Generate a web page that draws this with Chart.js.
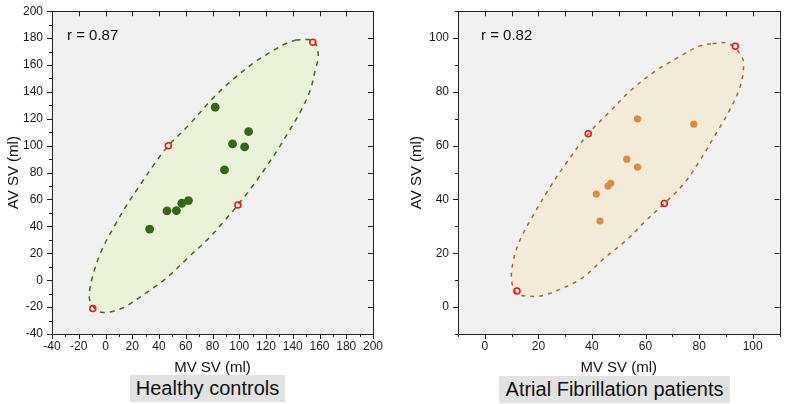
<!DOCTYPE html>
<html>
<head>
<meta charset="utf-8">
<script src="https://cdn.jsdelivr.net/npm/chart.js@4.4.1/dist/chart.umd.min.js"></script>
<style>
  body { margin: 0; background: #fff; width: 785px; height: 404px; position: relative; overflow: hidden; font-family: "Liberation Sans", Arial, sans-serif; }
  canvas { position: absolute; top: 0; }
  .tag { position: absolute; background: #e2e2e2; font-size: 20px; color: #111; text-align: center; line-height: 27px; height: 27px; }
</style>
</head>
<body>
<canvas id="left" width="392" height="380" style="left:0"></canvas>
<canvas id="right" width="392" height="380" style="left:393px"></canvas>
<div class="tag" style="left:130px; top:375px; width:155px;">Healthy controls</div>
<div class="tag" style="left:499px; top:376px; width:231px;">Atrial Fibrillation patients</div>
<script>
// healthy controls (MV SV vs AV SV, ml)
const hcMV = [82, 107, 95, 104, 89, 62, 57, 53, 46, 33];
const hcAV = [128.6, 110.4, 101.3, 99.1, 82, 59.2, 57.2, 51.8, 51.5, 38];
const hcOutMV = [47, 99, 155, -9.5];
const hcOutAV = [100, 56, 177, -21];
// ellipse outline
const hcEllMV = [142, 155, 158, 159, 157, 153, 145, 135.5, 130, 120, 110, 99, 88, 76, 63, 46, 31, 16, 6, -4, -11, -12, -9, -3, 6, 16, 26, 37, 47, 62, 81, 95, 110, 124, 135, 142];
const hcEllAV = [178.5, 178.5, 174, 165, 157, 141, 124, 108, 99, 84, 70, 56, 43, 30, 18, 2, -9, -19, -23, -23.6, -17, -9, 5, 22, 39, 56, 71, 87, 100, 115, 136, 149, 161, 170, 176, 178.5];

// atrial fibrillation patients
const afMV = [57, 78, 53, 57, 47, 46, 41.6, 43];
const afAV = [70, 68, 55, 52, 46, 45, 42, 32];
const afOutMV = [93.5, 38.6, 67, 12];
const afOutAV = [97, 64.4, 38.5, 6];
const afEllMV = [85, 91, 96, 96.5, 95, 91, 86, 80, 74, 67, 60, 53, 45, 36.6, 29, 22, 17, 12, 10, 10.6, 13, 18, 24, 30, 38.6, 46.5, 55, 64, 72.5, 80, 85];
const afEllAV = [98, 98, 93, 88, 81, 72.5, 64, 54, 45.5, 38.5, 32, 25, 18.5, 11, 7, 4.4, 4, 5, 10, 17, 24.6, 34, 44, 53, 64.4, 72.5, 81, 88, 93, 97, 98];

const xy = (xs, ys) => xs.map((v, i) => ({x: v, y: ys[i]}));
const FONT = '"Liberation Sans", Arial, sans-serif';

// plot background, box frame, tick marks, r value
const frame = {
  id: 'frame',
  beforeDraw(chart, args, o) {
    const {ctx, chartArea: a} = chart;
    ctx.save();
    ctx.fillStyle = '#f1f1f1';
    ctx.fillRect(a.left, a.top, a.right - a.left, a.bottom - a.top);
    ctx.restore();
  },
  afterDraw(chart, args, o) {
    const {ctx, chartArea: a} = chart;
    const x = chart.scales.x, y = chart.scales.y;
    ctx.save();
    ctx.strokeStyle = '#222';
    ctx.lineWidth = 1;
    ctx.beginPath();
    ctx.rect(Math.round(a.left) + .5, Math.round(a.top) + .5, Math.round(a.right - a.left), Math.round(a.bottom - a.top));
    x.ticks.forEach(t => {
      const p = Math.round(x.getPixelForValue(t.value)) + .5;
      ctx.moveTo(p, a.bottom); ctx.lineTo(p, a.bottom + (t.value % 20 === 0 ? 5 : 3));
      if (t.value % o.topStep === 0) { ctx.moveTo(p, a.top); ctx.lineTo(p, a.top + 5); }
    });
    y.ticks.forEach(t => {
      const p = Math.round(y.getPixelForValue(t.value)) + .5;
      ctx.moveTo(a.left, p); ctx.lineTo(a.left - (t.value % 20 === 0 ? 5 : 3), p);
      if (t.value % o.rightStep === 0) { ctx.moveTo(a.right, p); ctx.lineTo(a.right - 5, p); }
    });
    ctx.stroke();
    ctx.fillStyle = '#111';
    ctx.font = '15px ' + FONT;
    ctx.textBaseline = 'middle';
    ctx.fillText(o.label, a.left + o.dx, a.top + 25);
    ctx.restore();
  }
};

function axis(min, max, width, height, titlePad, isY) {
  return {
    min: min, max: max,
    grid: { display: false, drawTicks: true, tickLength: isY ? 5 : 3 },
    border: { display: false },
    ticks: {
      stepSize: 10, autoSkip: false, maxRotation: 0,
      padding: isY ? 4 : 2,
      color: '#1a1a1a', font: { family: FONT, size: 12 },
      callback: v => (v % 20 === 0 ? v : '')
    },
    title: {
      display: true, text: isY ? 'AV SV (ml)' : 'MV SV (ml)', color: '#111',
      font: { family: FONT, size: 15 },
      padding: isY ? { top: titlePad, bottom: 0 } : { top: 0, bottom: titlePad }
    },
    afterFit: s => { if (isY) s.width = width; else s.height = height; }
  };
}

function makeChart(id, pts, out, ell, c) {
  new Chart(document.getElementById(id), {
    type: 'scatter',
    data: {
      datasets: [
        { data: out, pointStyle: 'circle', pointRadius: 3, borderWidth: 1.5,
          borderColor: '#e8141a', backgroundColor: 'rgba(0,0,0,0)', order: 0 },
        { data: pts, pointRadius: c.r, borderWidth: 0,
          backgroundColor: c.dot, borderColor: c.dot, order: 1 },
        { type: 'line', data: ell, showLine: true, pointRadius: 0, tension: 0.35,
          borderColor: c.line, borderWidth: 1.5, borderDash: c.dash,
          backgroundColor: c.fill, fill: 'shape', order: 5 }
      ]
    },
    options: {
      responsive: false, animation: false,
      layout: { padding: { top: 8, right: c.padRight, left: 0, bottom: 0 } },
      plugins: {
        legend: { display: false }, tooltip: { enabled: false },
        frame: { label: c.label, dx: c.dx, topStep: c.topStep, rightStep: 20 }
      },
      scales: {
        x: axis(c.xmin, c.xmax, 0, 46, 3, false),
        y: axis(c.ymin, c.ymax, c.yWidth, 0, c.yTitlePad, true)
      }
    },
    plugins: [frame]
  });
}

makeChart('left', xy(hcMV, hcAV), xy(hcOutMV, hcOutAV), xy(hcEllMV, hcEllAV), {
  xmin: -40, xmax: 200, ymin: -40, ymax: 200, yWidth: 52, yTitlePad: 5, padRight: 19,
  dot: '#356619', line: '#3f6b22', fill: '#eaf3d9', dash: [5, 5], r: 4.4,
  label: 'r = 0.87', dx: 15, topStep: 20
});
makeChart('right', xy(afMV, afAV), xy(afOutMV, afOutAV), xy(afEllMV, afEllAV), {
  xmin: -10, xmax: 110, ymin: -10, ymax: 110, yWidth: 65, yTitlePad: 15, padRight: 5,
  dot: '#e08a3c', line: '#a8692e', fill: '#f2ebda', dash: [4, 5], r: 3.6,
  label: 'r = 0.82', dx: 23, topStep: 10
});
</script>
</body>
</html>
